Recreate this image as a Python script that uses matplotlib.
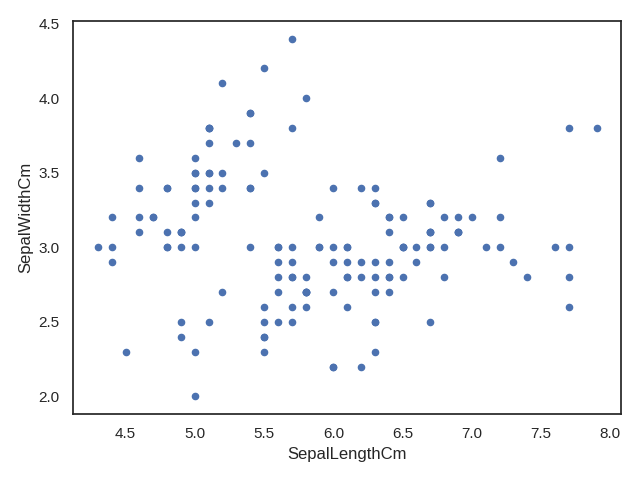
import numpy as np
import pandas as pd
import matplotlib
matplotlib.use("Agg")
import matplotlib.pyplot as plt
import seaborn as sns

# Iris sepal measurements (all 150 rows)
sepal_length = [
    5.1, 4.9, 4.7, 4.6, 5.0, 5.4, 4.6, 5.0, 4.4, 4.9, 5.4, 4.8, 4.8, 4.3, 5.8, 5.7, 5.4, 5.1, 5.7, 5.1,
    5.4, 5.1, 4.6, 5.1, 4.8, 5.0, 5.0, 5.2, 5.2, 4.7, 4.8, 5.4, 5.2, 5.5, 4.9, 5.0, 5.5, 4.9, 4.4, 5.1,
    5.0, 4.5, 4.4, 5.0, 5.1, 4.8, 5.1, 4.6, 5.3, 5.0,
    7.0, 6.4, 6.9, 5.5, 6.5, 5.7, 6.3, 4.9, 6.6, 5.2, 5.0, 5.9, 6.0, 6.1, 5.6, 6.7, 5.6, 5.8, 6.2, 5.6,
    5.9, 6.1, 6.3, 6.1, 6.4, 6.6, 6.8, 6.7, 6.0, 5.7, 5.5, 5.5, 5.8, 6.0, 5.4, 6.0, 6.7, 6.3, 5.6, 5.5,
    5.5, 6.1, 5.8, 5.0, 5.6, 5.7, 5.7, 6.2, 5.1, 5.7,
    6.3, 5.8, 7.1, 6.3, 6.5, 7.6, 4.9, 7.3, 6.7, 7.2, 6.5, 6.4, 6.8, 5.7, 5.8, 6.4, 6.5, 7.7, 7.7, 6.0,
    6.9, 5.6, 7.7, 6.3, 6.7, 7.2, 6.2, 6.1, 6.4, 7.2, 7.4, 7.9, 6.4, 6.3, 6.1, 7.7, 6.3, 6.4, 6.0, 6.9,
    6.7, 6.9, 5.8, 6.8, 6.7, 6.7, 6.3, 6.5, 6.2, 5.9,
]
sepal_width = [
    3.5, 3.0, 3.2, 3.1, 3.6, 3.9, 3.4, 3.4, 2.9, 3.1, 3.7, 3.4, 3.0, 3.0, 4.0, 4.4, 3.9, 3.5, 3.8, 3.8,
    3.4, 3.7, 3.6, 3.3, 3.4, 3.0, 3.4, 3.5, 3.4, 3.2, 3.1, 3.4, 4.1, 4.2, 3.1, 3.2, 3.5, 3.1, 3.0, 3.4,
    3.5, 2.3, 3.2, 3.5, 3.8, 3.0, 3.8, 3.2, 3.7, 3.3,
    3.2, 3.2, 3.1, 2.3, 2.8, 2.8, 3.3, 2.4, 2.9, 2.7, 2.0, 3.0, 2.2, 2.9, 2.9, 3.1, 3.0, 2.7, 2.2, 2.5,
    3.2, 2.8, 2.5, 2.8, 2.9, 3.0, 2.8, 3.0, 2.9, 2.6, 2.4, 2.4, 2.7, 2.7, 3.0, 3.4, 3.1, 2.3, 3.0, 2.5,
    2.6, 3.0, 2.6, 2.3, 2.7, 3.0, 2.9, 2.9, 2.5, 2.8,
    3.3, 2.7, 3.0, 2.9, 3.0, 3.0, 2.5, 2.9, 2.5, 3.6, 3.2, 2.7, 3.0, 2.5, 2.8, 3.2, 3.0, 3.8, 2.6, 2.2,
    3.2, 2.8, 2.8, 2.7, 3.3, 3.2, 2.8, 3.0, 2.8, 3.0, 2.8, 3.8, 2.8, 2.8, 2.6, 3.0, 3.4, 3.1, 3.0, 3.1,
    3.1, 3.1, 2.7, 3.2, 3.3, 3.0, 2.5, 3.0, 3.4, 3.0,
]

df = pd.DataFrame({"SepalLengthCm": sepal_length, "SepalWidthCm": sepal_width})

sns.set_theme(style="white", palette="deep")
plt.rcParams['font.family'] = ['Liberation Sans', 'DejaVu Sans']

fig, ax = plt.subplots(figsize=(6.4, 4.8), dpi=100)
df.plot(kind="scatter", x="SepalLengthCm", y="SepalWidthCm", ax=ax)
plt.tight_layout()
plt.savefig("out.png")
